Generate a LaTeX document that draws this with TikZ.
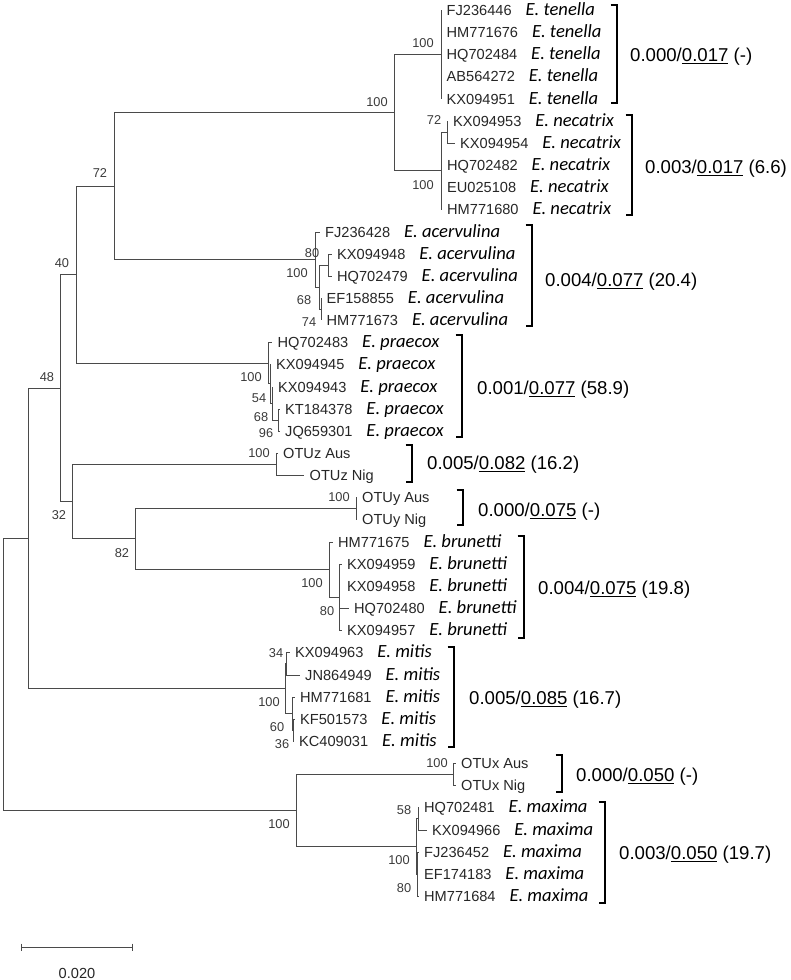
\documentclass[tikz,border=0pt]{standalone}
\usepackage{fontspec}
\setmainfont{Liberation Sans}
\newfontfamily\speciesfont{Carlito}
\usetikzlibrary{positioning}
\definecolor{branchgray}{HTML}{4A4A4A}
\definecolor{acctext}{HTML}{262626}
\definecolor{bootgray}{HTML}{3A3A3A}

\begin{document}
\begin{tikzpicture}[
  x=1pt, y=-1pt,
  branch/.style={draw=branchgray, line width=0.9pt},
  acc/.style={anchor=west, inner xsep=5.5pt, inner ysep=0pt, text height=10.4pt, text depth=0pt, font=\fontsize{14.6}{16}\selectfont, text=acctext},
  sp/.style={anchor=base west, inner sep=0pt, font=\speciesfont\itshape\fontsize{18.6}{20}\selectfont},
  boot/.style={inner sep=0pt, font=\fontsize{12.8}{14}\selectfont, text=bootgray},
  grp/.style={anchor=west, inner sep=0pt, text height=13.3pt, text depth=0pt, font=\fontsize{18.6}{20}\selectfont},
  bracket/.style={draw=black, line width=1.3pt}
]
  \useasboundingbox (0,0) rectangle (790,980);

  % ==================== INTERNAL NODES ====================
  \coordinate (root) at (3,674);
  \coordinate (n28) at (28,538.25);
  \coordinate (n48) at (60,388);
  \coordinate (n40) at (76,274.5);
  \coordinate (n72) at (114,186);
  \coordinate (nTN) at (394,112.5);
  \coordinate (nT) at (441,54.5);
  \coordinate (nN) at (441,170.5);
  \coordinate (nN72) at (447,132);
  \coordinate (nA) at (315,259.5);
  \coordinate (nA100) at (319,287);
  \coordinate (nA80) at (328,265);
  \coordinate (nA68) at (321,309);
  \coordinate (nP) at (268,363);
  \coordinate (nP2) at (270,383.75);
  \coordinate (nP3) at (272,403.5);
  \coordinate (nP4) at (278,420);
  \coordinate (n32) at (72,501.4);
  \coordinate (nZ) at (276,464);
  \coordinate (n82) at (135,538.75);
  \coordinate (nY) at (356,508);
  \coordinate (nB) at (329,569.5);
  \coordinate (nB2) at (339,597);
  \coordinate (nM) at (285,688.5);
  \coordinate (nM34) at (286,663.5);
  \coordinate (nMl) at (292,713.5);
  \coordinate (nM60) at (293,730);
  \coordinate (nMO) at (296,810);
  \coordinate (nX) at (453,774);
  \coordinate (nMx) at (416,846);
  \coordinate (nMx58) at (418,818.5);
  \coordinate (nMxl) at (417,874);

  % ==================== LEAVES ====================
  % E. tenella
  \node[acc] (L1) at (441,10) {FJ236446};
  \node[right=8pt of L1.base east, sp] (S1) {E. tenella};
  \node[acc] (L2) at (441,32) {HM771676};
  \node[right=8pt of L2.base east, sp] (S2) {E. tenella};
  \node[acc] (L3) at (441,54) {HQ702484};
  \node[right=8pt of L3.base east, sp] (S3) {E. tenella};
  \node[acc] (L4) at (441,76) {AB564272};
  \node[right=8pt of L4.base east, sp] (S4) {E. tenella};
  \node[acc] (L5) at (441,99) {KX094951};
  \node[right=8pt of L5.base east, sp] (S5) {E. tenella};

  % E. necatrix
  \node[acc] (L6) at (447.5,121) {KX094953};
  \node[right=8pt of L6.base east, sp] (S6) {E. necatrix};
  \node[acc] (L7) at (454.5,143) {KX094954};
  \node[right=8pt of L7.base east, sp] (S7) {E. necatrix};
  \node[acc] (L8) at (441.5,165) {HQ702482};
  \node[right=8pt of L8.base east, sp] (S8) {E. necatrix};
  \node[acc] (L9) at (441.5,187) {EU025108};
  \node[right=8pt of L9.base east, sp] (S9) {E. necatrix};
  \node[acc] (L10) at (441.5,209) {HM771680};
  \node[right=8pt of L10.base east, sp] (S10) {E. necatrix};

  % E. acervulina
  \node[acc] (L11) at (319.5,232) {FJ236428};
  \node[right=8pt of L11.base east, sp] (S11) {E. acervulina};
  \node[acc] (L12) at (331.5,254) {KX094948};
  \node[right=8pt of L12.base east, sp] (S12) {E. acervulina};
  \node[acc] (L13) at (331.5,276) {HQ702479};
  \node[right=8pt of L13.base east, sp] (S13) {E. acervulina};
  \node[acc] (L14) at (321,298) {EF158855};
  \node[right=8pt of L14.base east, sp] (S14) {E. acervulina};
  \node[acc] (L15) at (321,320) {HM771673};
  \node[right=8pt of L15.base east, sp] (S15) {E. acervulina};

  % E. praecox
  \node[acc] (L16) at (272,342) {HQ702483};
  \node[right=8pt of L16.base east, sp] (S16) {E. praecox};
  \node[acc] (L17) at (270.5,364) {KX094945};
  \node[right=8pt of L17.base east, sp] (S17) {E. praecox};
  \node[acc] (L18) at (272.5,387) {KX094943};
  \node[right=8pt of L18.base east, sp] (S18) {E. praecox};
  \node[acc] (L19) at (279.5,409) {KT184378};
  \node[right=8pt of L19.base east, sp] (S19) {E. praecox};
  \node[acc] (L20) at (279.5,431) {JQ659301};
  \node[right=8pt of L20.base east, sp] (S20) {E. praecox};

  % OTUz, OTUy
  \node[acc] (L21) at (277.5,453) {OTUz Aus};
  \node[acc] (L22) at (304,475) {OTUz Nig};
  \node[acc] (L23) at (356.5,497) {OTUy Aus};
  \node[acc] (L24) at (356.5,519) {OTUy Nig};

  % E. brunetti
  \node[acc] (L25) at (332.5,542) {HM771675};
  \node[right=8pt of L25.base east, sp] (S25) {E. brunetti};
  \node[acc] (L26) at (341.5,564) {KX094959};
  \node[right=8pt of L26.base east, sp] (S26) {E. brunetti};
  \node[acc] (L27) at (341.5,586) {KX094958};
  \node[right=8pt of L27.base east, sp] (S27) {E. brunetti};
  \node[acc] (L28) at (348.5,608) {HQ702480};
  \node[right=8pt of L28.base east, sp] (S28) {E. brunetti};
  \node[acc] (L29) at (341.5,630) {KX094957};
  \node[right=8pt of L29.base east, sp] (S29) {E. brunetti};

  % E. mitis
  \node[acc] (L30) at (289.5,652) {KX094963};
  \node[right=8pt of L30.base east, sp] (S30) {E. mitis};
  \node[acc] (L31) at (299.5,675) {JN864949};
  \node[right=8pt of L31.base east, sp] (S31) {E. mitis};
  \node[acc] (L32) at (294.5,697) {HM771681};
  \node[right=8pt of L32.base east, sp] (S32) {E. mitis};
  \node[acc] (L33) at (294.5,719) {KF501573};
  \node[right=8pt of L33.base east, sp] (S33) {E. mitis};
  \node[acc] (L34) at (293.5,741) {KC409031};
  \node[right=8pt of L34.base east, sp] (S34) {E. mitis};

  % OTUx
  \node[acc] (L35) at (455.5,763) {OTUx Aus};
  \node[acc] (L36) at (455.5,785) {OTUx Nig};

  % E. maxima
  \node[acc] (L37) at (418.5,807) {HQ702481};
  \node[right=8pt of L37.base east, sp] (S37) {E. maxima};
  \node[acc] (L38) at (426.5,830) {KX094966};
  \node[right=8pt of L38.base east, sp] (S38) {E. maxima};
  \node[acc] (L39) at (418.5,852) {FJ236452};
  \node[right=8pt of L39.base east, sp] (S39) {E. maxima};
  \node[acc] (L40) at (418.5,874) {EF174183};
  \node[right=8pt of L40.base east, sp] (S40) {E. maxima};
  \node[acc] (L41) at (418.5,896) {HM771684};
  \node[right=8pt of L41.base east, sp] (S41) {E. maxima};

  % ==================== BRANCHES ====================
  \draw[branch] (root) |- (n28) (root) |- (nMO);
  \draw[branch] (n28) |- (n48) (n28) |- (nM);
  \draw[branch] (n48) |- (n40) (n48) |- (n32);
  \draw[branch] (n40) |- (n72) (n40) |- (nP);
  \draw[branch] (n72) |- (nTN) (n72) |- (nA);
  \draw[branch] (nTN) |- (nT) (nTN) |- (nN);
  \draw[branch] (nT) |- (L1.west) (nT) |- (L5.west);
  \draw[branch] (nN) |- (nN72) (nN) |- (L8.west) (nN) |- (L9.west) (nN) |- (L10.west);
  \draw[branch] (nN72) |- (L6.west) (nN72) |- (L7.west);
  \draw[branch] (nA) |- (L11.west) (nA) |- (nA100);
  \draw[branch] (nA100) |- (nA80) (nA100) |- (nA68);
  \draw[branch] (nA80) |- (L12.west) (nA80) |- (L13.west);
  \draw[branch] (nA68) |- (L14.west) (nA68) |- (L15.west);
  \draw[branch] (nP) |- (L16.west) (nP) |- (nP2);
  \draw[branch] (nP2) |- (L17.west) (nP2) |- (nP3);
  \draw[branch] (nP3) |- (L18.west) (nP3) |- (nP4);
  \draw[branch] (nP4) |- (L19.west) (nP4) |- (L20.west);
  \draw[branch] (n32) |- (nZ) (n32) |- (n82);
  \draw[branch] (nZ) |- (L21.west) (nZ) |- (L22.west);
  \draw[branch] (n82) |- (nY) (n82) |- (nB);
  \draw[branch] (nY) |- (L23.west) (nY) |- (L24.west);
  \draw[branch] (nB) |- (L25.west) (nB) |- (nB2);
  \draw[branch] (nB2) |- (L26.west) (nB2) |- (L28.west) (nB2) |- (L29.west);
  \draw[branch] (nM) |- (nM34) (nM) |- (nMl);
  \draw[branch] (nM34) |- (L30.west) (nM34) |- (L31.west);
  \draw[branch] (nMl) |- (L32.west) (nMl) |- (nM60);
  \draw[branch] (nM60) |- (L33.west) (nM60) |- (L34.west);
  \draw[branch] (nMO) |- (nX) (nMO) |- (nMx);
  \draw[branch] (nX) |- (L35.west) (nX) |- (L36.west);
  \draw[branch] (nMx) |- (nMx58) (nMx) |- (nMxl);
  \draw[branch] (nMx58) |- (L37.west) (nMx58) |- (L38.west);
  \draw[branch] (nMxl) |- (L39.west) (nMxl) |- (L41.west);

  % ==================== BOOTSTRAP VALUES ====================
  \node[boot] (bT) at (423,43) {100};
  \node[boot] (bTN) at (377,102) {100};
  \node[boot] (bN72) at (434,120) {72};
  \node[boot] (bN) at (423,185) {100};
  \node[boot] (b72) at (100,173) {72};
  \node[boot] (b40) at (62,263) {40};
  \node[boot] (b48) at (47,377) {48};
  \node[boot] (bA80) at (312,253) {80};
  \node[boot] (bA100) at (297,273) {100};
  \node[boot] (bA68) at (304,300) {68};
  \node[boot] (bA74) at (309,322) {74};
  \node[boot] (bP2) at (251,377) {100};
  \node[boot] (bP3) at (259,398) {54};
  \node[boot] (bP4) at (261,417) {68};
  \node[boot] (bP5) at (266,433) {96};
  \node[boot] (bZ) at (259,453) {100};
  \node[boot] (bY) at (339,497) {100};
  \node[boot] (b32) at (59,515) {32};
  \node[boot] (b82) at (122,553) {82};
  \node[boot] (bB) at (312,583) {100};
  \node[boot] (bB2) at (327,611) {80};
  \node[boot] (bM34) at (276,653) {34};
  \node[boot] (bM) at (269,702) {100};
  \node[boot] (bM60) at (277,727) {60};
  \node[boot] (bM36) at (282,744) {36};
  \node[boot] (bMO) at (279,824) {100};
  \node[boot] (bX) at (437,763) {100};
  \node[boot] (bMx58) at (404,810) {58};
  \node[boot] (bMxl) at (399,860) {100};
  \node[boot] (bMx80) at (404,888) {80};

  % ==================== GROUP BRACKETS ====================
  \draw[bracket] (610.5,5) -- (617,5) -- (617,103) -- (610.5,103);
  \node[grp] (gT) at (630,55) {0.000/\underline{0.017} (-)};
  \draw[bracket] (625.5,115) -- (632,115) -- (632,215) -- (625.5,215);
  \node[grp] (gN) at (645,167) {0.003/\underline{0.017} (6.6)};
  \draw[bracket] (525.5,225) -- (532,225) -- (532,326) -- (525.5,326);
  \node[grp] (gA) at (545,280) {0.004/\underline{0.077} (20.4)};
  \draw[bracket] (455.5,335) -- (462,335) -- (462,437) -- (455.5,437);
  \node[grp] (gP) at (477,388) {0.001/\underline{0.077} (58.9)};
  \draw[bracket] (405.5,445) -- (412,445) -- (412,482) -- (405.5,482);
  \node[grp] (gZ) at (427,463) {0.005/\underline{0.082} (16.2)};
  \draw[bracket] (456.5,490) -- (463,490) -- (463,525) -- (456.5,525);
  \node[grp] (gY) at (478,510) {0.000/\underline{0.075} (-)};
  \draw[bracket] (517.5,536) -- (524,536) -- (524,638) -- (517.5,638);
  \node[grp] (gB) at (538,588) {0.004/\underline{0.075} (19.8)};
  \draw[bracket] (447.5,647) -- (454,647) -- (454,747) -- (447.5,747);
  \node[grp] (gM) at (469,698) {0.005/\underline{0.085} (16.7)};
  \draw[bracket] (555.5,755) -- (562,755) -- (562,792) -- (555.5,792);
  \node[grp] (gX) at (576,775) {0.000/\underline{0.050} (-)};
  \draw[bracket] (598.5,802) -- (605,802) -- (605,903) -- (598.5,903);
  \node[grp] (gMx) at (619,853) {0.003/\underline{0.050} (19.7)};

  % Scale bar
  \coordinate (sbL) at (21,947);
  \coordinate (sbR) at (132,947);
  \draw[branch] (sbL) -- (sbR);
  \draw[branch] ([yshift=3.5pt]sbL) -- ([yshift=-3.5pt]sbL);
  \draw[branch] ([yshift=3.5pt]sbR) -- ([yshift=-3.5pt]sbR);
  \node[inner sep=0pt, font=\fontsize{14.6}{16}\selectfont, text=acctext] (sbtext) at (77,973) {0.020};

\end{tikzpicture}
\end{document}
